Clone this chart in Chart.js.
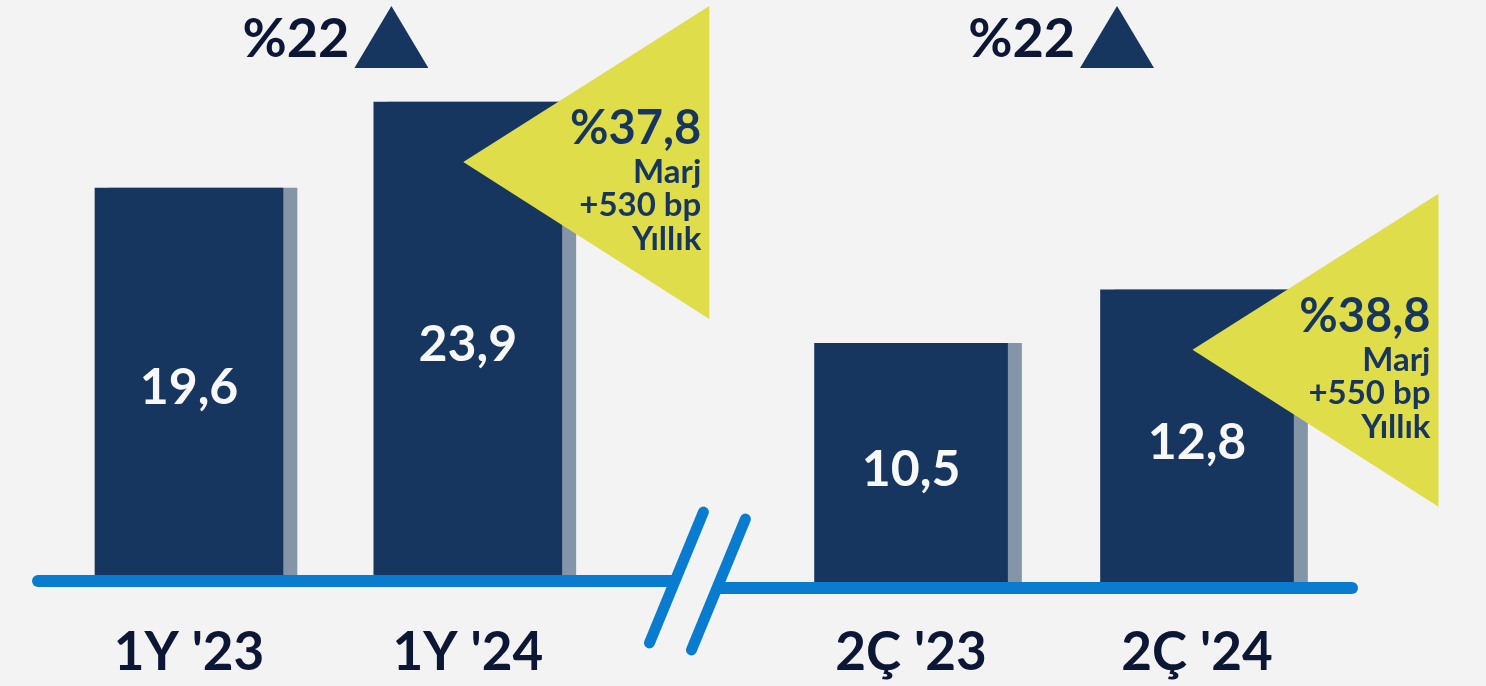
<!DOCTYPE html>
<html>
<head>
<meta charset="utf-8">
<script src="https://cdn.jsdelivr.net/npm/chart.js@4.4.1/dist/chart.umd.min.js"></script>
<style>
  html, body { margin: 0; padding: 0; background: #f3f3f3; }
  canvas { display: block; }
</style>
</head>
<body>
<canvas id="chart" width="1486" height="686"></canvas>
<script>
// chart data
const categories = ["1Y '23", "1Y '24", "2Ç '23", "2Ç '24"];
const halfYear = [19.6, 23.9];      // 1Y bars
const quarter = [10.5, 12.8];       // 2Ç bars
const growth = ['%22', '%22'];      // yoy growth per group
const margins = ['%37,8', '%38,8'];
const marginNotes = [['Marj', '+530 bp', 'Yıllık'], ['Marj', '+550 bp', 'Yıllık']];

const NAVY = '#17365f', INK = '#0c1735', YELLOW = '#dfdd4a', BLUE = '#0a7cd0', SHADOW = '#8595a8';
const FONT = 'Lato, "Open Sans", sans-serif';

// the two groups sit on a fine category axis, with a wider gap in the middle
const slotOf = [0, 39, 101, 141];
const nSlots = 142;
const slotLabels = Array.from({ length: nSlots }, (_, i) => {
  const k = slotOf.indexOf(i);
  return k < 0 ? '' : categories[k];
});
const spread = (vals, from) => Array.from({ length: nSlots }, (_, i) => {
  const k = slotOf.indexOf(i) - from;
  return k >= 0 && k < vals.length ? vals[k] : null;
});
const slotW = 1008 / (nSlots - 1);
const padL = 189 - slotW / 2;
const padR = 1486 - (padL + nSlots * slotW);

const decor = {
  id: 'decor',
  beforeDraw(chart) {
    const ctx = chart.ctx;
    ctx.save();
    ctx.fillStyle = '#f3f3f3';
    ctx.fillRect(0, 0, chart.width, chart.height);
    ctx.restore();
  },
  beforeDatasetDraw(chart) {
    const ctx = chart.ctx;
    ctx.save();
    ctx.shadowColor = SHADOW;
    ctx.shadowBlur = 0;
    ctx.shadowOffsetX = 14;
    ctx.shadowOffsetY = 0;
  },
  afterDatasetDraw(chart) {
    chart.ctx.restore();
  },
  afterDatasetsDraw(chart) {
    const ctx = chart.ctx;
    const bars = [];
    chart.data.datasets.forEach((ds, di) => {
      chart.getDatasetMeta(di).data.forEach((el, i) => {
        if (ds.data[i] != null) bars.push({ el, v: ds.data[i] });
      });
    });
    const yL = chart.scales.yL, yR = chart.scales.yR;
    const baseL = yL.getPixelForValue(0) + 1;
    const baseR = yR.getPixelForValue(0);
    const m = (bars[1].el.x + bars[2].el.x) / 2;

    ctx.save();
    // baselines
    ctx.strokeStyle = BLUE;
    ctx.lineWidth = 12;
    ctx.lineCap = 'round';
    ctx.beginPath();
    ctx.moveTo(bars[0].el.x - 151, baseL);
    ctx.lineTo(m - 17, baseL);
    ctx.stroke();
    ctx.lineCap = 'butt';
    ctx.beginPath();
    ctx.moveTo(m + 24, baseR);
    ctx.lineTo(bars[3].el.x + 155, baseR);
    ctx.stroke();
    ctx.beginPath();
    ctx.arc(bars[3].el.x + 155, baseR, 6, -Math.PI / 2, Math.PI / 2);
    ctx.fillStyle = BLUE;
    ctx.fill();
    // break marks
    ctx.lineCap = 'round';
    ctx.lineWidth = 11;
    ctx.beginPath();
    ctx.moveTo(m + 14, 512); ctx.lineTo(m - 40, 643);
    ctx.moveTo(m + 56, 519); ctx.lineTo(m + 2, 650);
    ctx.stroke();

    // margin triangles on the second bar of each group
    [bars[1], bars[3]].forEach((b, g) => {
      const ax = b.el.x - 4.5, ay = b.el.y + 60;
      ctx.fillStyle = YELLOW;
      ctx.beginPath();
      ctx.moveTo(ax, ay);
      ctx.lineTo(ax + 246, ay - 156);
      ctx.lineTo(ax + 246, ay + 157);
      ctx.closePath();
      ctx.fill();
      ctx.fillStyle = NAVY;
      ctx.textAlign = 'right';
      ctx.textBaseline = 'alphabetic';
      ctx.font = 'bold 47px ' + FONT;
      ctx.fillText(margins[g], ax + 238, ay - 18);
      ctx.font = 'bold 33px ' + FONT;
      [21, 54, 88].forEach((dy, j) => ctx.fillText(marginNotes[g][j], ax + 238, ay + dy));
    });

    // values inside the bars
    ctx.fillStyle = '#f8f8f8';
    ctx.textAlign = 'center';
    ctx.textBaseline = 'middle';
    ctx.font = 'bold 50px ' + FONT;
    bars.forEach(b => {
      ctx.fillText(b.v.toFixed(1).replace('.', ','), b.el.x, (b.el.y + b.el.base) / 2 + 4);
    });

    // growth headers
    [[bars[0], bars[1]], [bars[2], bars[3]]].forEach((pair, g) => {
      const gc = (pair[0].el.x + pair[1].el.x) / 2;
      ctx.fillStyle = INK;
      ctx.textAlign = 'right';
      ctx.textBaseline = 'alphabetic';
      ctx.font = 'bold 54px ' + FONT;
      ctx.fillText(growth[g], gc + 21, 57);
      ctx.fillStyle = NAVY;
      ctx.beginPath();
      ctx.moveTo(gc + 63, 6);
      ctx.lineTo(gc + 100, 68);
      ctx.lineTo(gc + 26, 68);
      ctx.closePath();
      ctx.fill();
    });
    ctx.restore();
  }
};

document.fonts.load('bold 52px Lato').then(() => {
  new Chart(document.getElementById('chart'), {
    type: 'bar',
    data: {
      labels: slotLabels,
      datasets: [
        { label: '1Y', data: spread(halfYear, 0), yAxisID: 'yL', backgroundColor: NAVY, barThickness: 188, clip: false },
        { label: '2Ç', data: spread(quarter, 2), yAxisID: 'yR', backgroundColor: NAVY, barThickness: 193, clip: false }
      ]
    },
    options: {
      responsive: false,
      animation: false,
      layout: { padding: { left: padL, right: padR, top: 0, bottom: 0 } },
      datasets: { bar: { grouped: false } },
      plugins: { legend: { display: false }, tooltip: { enabled: false } },
      scales: {
        x: {
          grid: { display: false, drawTicks: false },
          border: { display: false },
          ticks: { autoSkip: false, maxRotation: 0, padding: 33, color: INK, font: { family: FONT, size: 53, weight: 'bold' } },
          afterFit: s => { s.height = 98; }
        },
        yL: { display: false, min: -0.4, max: 29 },
        yR: { display: false, min: 0, max: 25.24 }
      }
    },
    plugins: [decor]
  });
});
</script>
</body>
</html>
